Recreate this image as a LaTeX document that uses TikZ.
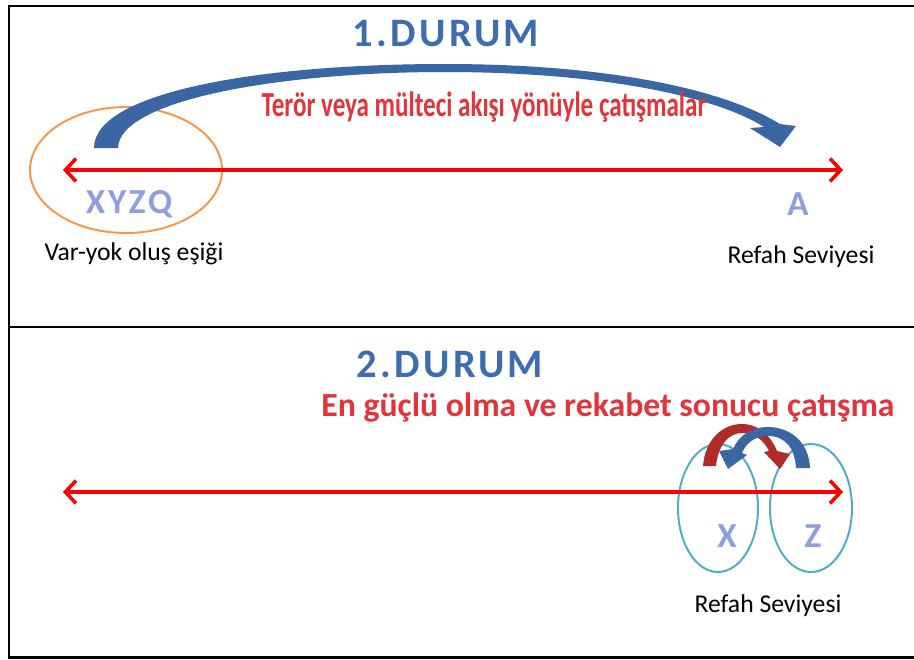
\documentclass[tikz,border=0pt]{standalone}
\usepackage{fontspec}
\setmainfont{Carlito}
\newfontfamily\widefont[LetterSpace=8.0]{Carlito}
\usepackage{tikz}
\usetikzlibrary{arrows.meta}
\definecolor{axisred}{RGB}{255,0,0}
\definecolor{titleblue}{RGB}{62,108,178}
\definecolor{letterblue}{RGB}{142,158,224}
\definecolor{labelred}{RGB}{226,52,58}
\definecolor{arcblue}{RGB}{58,102,164}
\definecolor{arcred}{RGB}{178,42,42}
\definecolor{ringorange}{RGB}{247,150,70}
\definecolor{ringcyan}{RGB}{75,172,198}

\begin{document}
\begin{tikzpicture}[x=0.02cm,y=-0.02cm,
    axis/.style={axisred,line width=2pt,{Straight Barb[length=6pt,width=13pt]}-{Straight Barb[length=6pt,width=13pt]}},
    durum/.style={inner sep=0,text=titleblue,font=\widefont\bfseries\fontsize{23}{25}\selectfont},
    letter/.style={inner sep=0,text=letterblue,font=\widefont\bfseries\fontsize{20}{22}\selectfont},
    conflict/.style={inner sep=0,text=labelred,font=\bfseries\fontsize{20}{22}\selectfont},
    caption/.style={inner sep=0,font=\fontsize{14.6}{16}\selectfont}]
    \useasboundingbox (0,0) rectangle (914,660);
    \fill[white] (0,0) rectangle (914,660);
    \draw[line width=1.7pt] (920,6) -| (9,657) -- (920,657);
    \draw[line width=1.7pt] (9,327) -- (920,327);

    \node[durum] (durum1) at (446,34) {1.DURUM};
    \draw[ringorange,line width=1.1pt] (126,170) ellipse (96 and 63);
    \fill[arcblue] (94,148) .. controls (94,92) and (260,64) .. (445,64)
       .. controls (610,64) and (725,90) .. (780,124) -- (796,126) -- (780,147)
       -- (750,128) -- (764,127) .. controls (715,96) and (600,72) .. (445,72)
       .. controls (280,72) and (119,100) .. (118,148) -- cycle;
    \node[conflict] (flow) at (484,107) {\scalebox{0.714}[1]{Terör veya mülteci akışı yönüyle çatışmalar}};
    \coordinate (left1) at (63,170);
    \coordinate (right1) at (843,170);
    \draw[axis] (left1) -- (right1);
    \node[letter] (xyzq) at (129,204) {XYZQ};
    \node[letter] (a) at (798,204) {A};
    \node[caption] (esik) at (134,254) {Var-yok oluş eşiği};
    \node[caption] (refah1) at (801,257) {Refah Seviyesi};

    \node[durum] (durum2) at (450,364) {2.DURUM};
    \node[conflict,font=\bfseries\fontsize{19.2}{21}\selectfont] (rivalry) at (608,408) {En güçlü olma ve rekabet sonucu çatışma};
    \draw[ringcyan,line width=1.1pt] (718,508) ellipse (40 and 64);
    \draw[ringcyan,line width=1.1pt] (811,508) ellipse (41 and 64);
    \coordinate (left2) at (63,492);
    \coordinate (right2) at (843,492);
    \draw[axis] (left2) -- (right2);
    \fill[arcred] (703,466) .. controls (705,440) and (722,424) .. (742,424)
       .. controls (760,424) and (772,438) .. (777,451) -- (790,454) -- (780,469)
       -- (764,452) -- (769,451) .. controls (764,440) and (754,433) .. (742,433)
       .. controls (728,433) and (718,446) .. (716,466) -- cycle;
    \fill[arcblue] (810,468) .. controls (809,442) and (790,427) .. (768,427)
       .. controls (750,427) and (738,437) .. (733,449) -- (719,451) -- (728,469)
       -- (747,455) -- (742,453) .. controls (746,443) and (755,436) .. (768,436)
       .. controls (785,436) and (795,448) .. (796,468) -- cycle;
    \node[letter] (x) at (727,536) {X};
    \node[letter] (z) at (813,536) {Z};
    \node[caption] (refah2) at (768,606) {Refah Seviyesi};
\end{tikzpicture}
\end{document}
